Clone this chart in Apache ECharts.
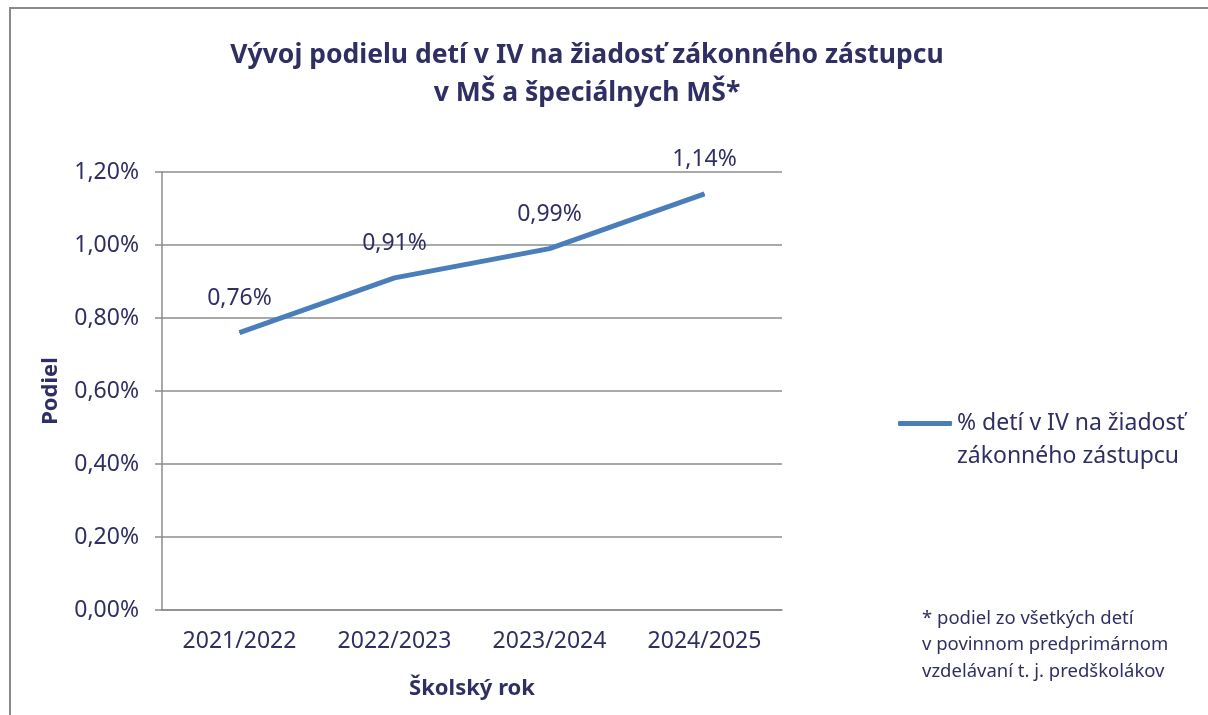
<!DOCTYPE html>
<html lang="sk">
<head>
    <meta charset="UTF-8">
    <title>Vývoj podielu detí v IV</title>
    <script src="https://cdn.jsdelivr.net/npm/echarts@6/dist/echarts.min.js"></script>
    <style>
        html, body { margin: 0; padding: 0; background: #fff; }
    </style>
</head>
<body>
<div id="main" style="width: 1208px;height:715px;"></div>

<script type="text/javascript">
    // údaje z grafu
    var roky = ['2021/2022', '2022/2023', '2023/2024', '2024/2025'];
    var podiel = [0.76, 0.91, 0.99, 1.14];
    var nazovRady = '% detí v IV na žiadosť zákonného zástupcu';
    var poznamka = ['* podiel zo všetkých detí', 'v povinnom predprimárnom', 'vzdelávaní t. j. predškolákov'];

    var farbaTextu = '#302f63';
    var farbaCiar = '#8c8c8c';
    var font = 'Noto Sans';

    function percento(v) {
        return v.toFixed(2).replace('.', ',') + '%';
    }

    var myChart = echarts.init(document.getElementById('main'));

    var option = {
        animation: false,
        backgroundColor: '#fff',
        textStyle: { fontFamily: font },
        title: {
            text: 'Vývoj podielu detí v IV na žiadosť zákonného zástupcu\nv MŠ a špeciálnych MŠ*',
            left: 582,
            top: 31,
            textAlign: 'center',
            textStyle: {
                fontFamily: font,
                fontSize: 26.5,
                fontWeight: 'bold',
                color: farbaTextu,
                lineHeight: 38
            }
        },
        legend: {
            left: 898,
            top: 374,
            padding: 0,
            itemWidth: 54,
            itemHeight: 5,
            icon: 'roundRect',
            data: [nazovRady],
            // prázdny prvý riadok, aby bola čiara pri prvom riadku textu
            formatter: function () {
                return ' \n% detí v IV na žiadosť\nzákonného zástupcu';
            },
            textStyle: {
                fontFamily: font,
                fontSize: 23,
                color: farbaTextu,
                lineHeight: 33
            }
        },
        grid: {
            left: 162,
            right: 426,
            top: 172,
            bottom: 105
        },
        xAxis: {
            type: 'category',
            data: roky,
            boundaryGap: true,
            name: 'Školský rok',
            nameLocation: 'middle',
            nameGap: 68,
            nameTextStyle: {
                fontFamily: font,
                fontSize: 22,
                fontWeight: 'bold',
                color: farbaTextu
            },
            axisLine: { lineStyle: { color: farbaCiar, width: 1.5 } },
            axisTick: { alignWithLabel: false, length: 7, lineStyle: { color: farbaCiar, width: 1.5 } },
            axisLabel: {
                margin: 20,
                fontFamily: font,
                fontSize: 23,
                color: farbaTextu
            }
        },
        yAxis: {
            type: 'value',
            min: 0,
            max: 1.2,
            interval: 0.2,
            name: 'Podiel',
            nameLocation: 'middle',
            nameGap: 100,
            nameTextStyle: {
                fontFamily: font,
                fontSize: 22,
                fontWeight: 'bold',
                color: farbaTextu
            },
            axisLine: { show: true, lineStyle: { color: farbaCiar, width: 1.5 } },
            axisTick: { show: true, length: 7, lineStyle: { color: farbaCiar, width: 1.5 } },
            splitLine: { lineStyle: { color: farbaCiar, width: 1.5 } },
            axisLabel: {
                margin: 23,
                fontFamily: font,
                fontSize: 23,
                color: farbaTextu,
                formatter: function (v) { return percento(v); }
            }
        },
        series: [
            {
                name: nazovRady,
                type: 'line',
                data: podiel,
                symbol: 'circle',
                symbolSize: 1,
                showSymbol: true,
                lineStyle: { color: '#4a7ebb', width: 5 },
                itemStyle: { color: '#4a7ebb' },
                label: {
                    show: true,
                    position: 'top',
                    distance: 22,
                    fontFamily: font,
                    fontSize: 23,
                    color: farbaTextu,
                    formatter: function (p) { return percento(p.value); }
                }
            }
        ],
        graphic: [
            {
                type: 'rect',
                z: -1,
                shape: { x: 10, y: 8, width: 1230, height: 740 },
                style: { fill: 'none', stroke: '#8a8a8a', lineWidth: 2 },
                silent: true
            },
            {
                type: 'text',
                left: 922,
                top: 605,
                style: {
                    text: poznamka.join('\n'),
                    fontFamily: font,
                    fontSize: 18.5,
                    lineHeight: 26.5,
                    fill: farbaTextu
                }
            }
        ]
    };

    myChart.setOption(option);
</script>
</body>
</html>
